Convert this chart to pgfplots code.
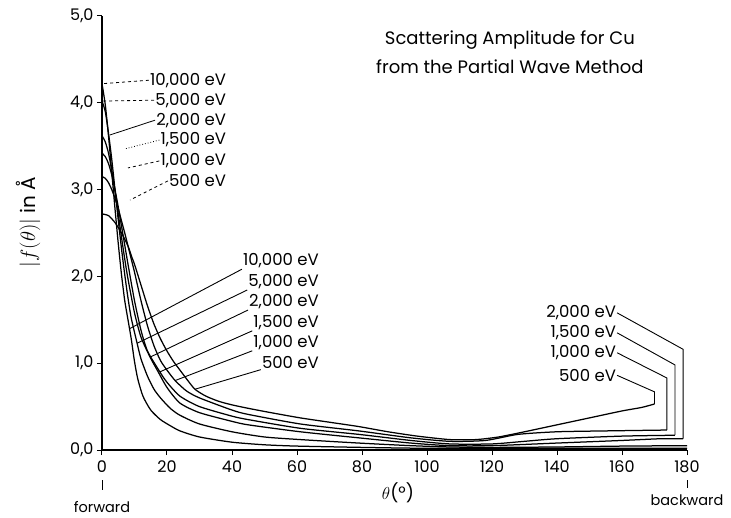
\documentclass[border=0pt]{standalone}
\usepackage{fontspec}
\setmainfont{Poppins}
\usepackage{pgfplots}
\pgfplotsset{compat=1.18}
\begin{document}
\begin{tikzpicture}[x=1pt,y=1pt]
\useasboundingbox (-102pt,-67pt) rectangle (629pt,450pt);
\begin{axis}[
  at={(0,0)}, anchor=south west,
  width=585pt, height=434pt, scale only axis,
  xmin=0, xmax=180, ymin=0, ymax=5, enlargelimits=false,
  axis lines=left, axis line style={-, line width=1.2pt},
  xtick={0,20,...,180}, ytick={0,1,...,5},
  xticklabels={0,20,40,60,80,100,120,140,160,180},
  yticklabels={{0,0},{1,0},{2,0},{3,0},{4,0},{5,0}},
  tick align=outside, major tick length=5pt,
  tick style={line width=1pt, black},
  ticklabel style={font=\fontsize{16}{18}\selectfont},
  xticklabel style={yshift=-2pt},
  clip=false,
  crv/.style={black, solid, line width=1.25pt, smooth, tension=0.4, mark=none},
  xlabel={$\theta$(°)},
  xlabel style={at={(axis description cs:0.506,-0.099)}, anchor=center, font=\fontsize{18}{20}\selectfont},
  ylabel={$|f(\theta)|$ in Å},
  ylabel style={at={(axis description cs:-0.1265,0.525)}, anchor=center, font=\fontsize{20}{22}\selectfont},
]
% 10,000 eV
\addplot[crv] coordinates {(0,4.22)(1,3.98)(2,3.62)(3,3.2)(4,2.78)(5,2.38)(6,2.02)(7,1.72)(8,1.5)(9,1.28)(10,1.02)(11,0.82)(12.6,0.62)(15,0.46)(18,0.35)(21,0.28)(24,0.22)(30,0.15)(40,0.09)(50,0.06)(60,0.045)(80,0.03)(100,0.02)(140,0.02)(180,0.02)};
% 5,000 eV
\addplot[crv] coordinates {(0,4.02)(1,3.9)(2,3.65)(3,3.35)(4,3.0)(5,2.65)(6,2.32)(7,2.02)(8,1.75)(9,1.52)(10.8,1.23)(12,1.05)(14,0.85)(16,0.7)(18,0.6)(21,0.48)(24,0.4)(30,0.3)(40,0.21)(50,0.15)(61,0.12)(79,0.08)(95,0.05)(107,0.035)(120,0.03)(140,0.035)(160,0.045)(180,0.05)};
% 2,000 eV
\addplot[crv] coordinates {(0,3.62)(1,3.55)(2,3.42)(3,3.22)(4,2.98)(5,2.72)(6,2.45)(7,2.2)(8,1.97)(10,1.58)(12,1.3)(14.8,1.07)(17,0.92)(20,0.72)(24,0.54)(30,0.43)(40,0.33)(45,0.29)(61,0.21)(79,0.14)(95,0.08)(107,0.05)(120,0.05)(140,0.08)(160,0.11)(172,0.13)(178.8,0.13)};
% 1,500 eV
\addplot[crv] coordinates {(0,3.42)(1,3.38)(2,3.3)(3,3.17)(4,3.0)(5,2.8)(6,2.58)(7,2.36)(8,2.14)(10,1.72)(12,1.38)(14,1.14)(17.8,0.9)(20,0.78)(24,0.62)(30,0.5)(40,0.39)(45,0.35)(61,0.25)(79,0.18)(95,0.11)(107,0.07)(120,0.07)(130,0.1)(140,0.13)(160,0.16)(176.3,0.17)};
% 1,000 eV
\addplot[crv] coordinates {(0,3.15)(1,3.13)(2,3.08)(3,3.0)(4,2.9)(5,2.78)(6,2.64)(7,2.5)(8,2.35)(9,2.2)(10,2.05)(12,1.72)(14,1.43)(16,1.2)(18,1.03)(20,0.92)(22.5,0.8)(26,0.68)(30,0.6)(40,0.46)(45,0.41)(61,0.3)(79,0.22)(95,0.14)(107,0.1)(118,0.11)(128,0.18)(140,0.21)(155,0.22)(173.8,0.23)};
% 500 eV
\addplot[crv] coordinates {(0,2.72)(2,2.7)(4,2.62)(6,2.5)(8,2.35)(9.2,2.22)(10,2.14)(12,1.9)(14,1.66)(16,1.45)(18,1.28)(20,1.14)(22,1.02)(24,0.92)(26,0.82)(28.6,0.7)(32,0.62)(36,0.56)(40,0.52)(45,0.48)(52,0.43)(61,0.37)(70,0.32)(79,0.27)(88,0.21)(97,0.16)(107,0.12)(115,0.12)(122,0.15)(130,0.21)(140,0.29)(150,0.37)(160,0.45)(166,0.49)(170,0.53)};

% title
\node[font=\fontsize{18}{21}\selectfont] at (axis cs:125.5,4.72) {Scattering Amplitude for Cu};
\node[font=\fontsize{18}{21}\selectfont] at (axis cs:125.5,4.42) {from the Partial Wave Method};

% left labels
\begin{scope}[every node/.style={font=\fontsize{16.5}{18}\selectfont, inner sep=1pt, anchor=east}]
\node (a1) at (axis cs:38.5,4.26) {10,000 eV};
\node (a2) at (axis cs:38.5,4.03) {5,000 eV};
\node (a3) at (axis cs:38.5,3.80) {2,000 eV};
\node (a4) at (axis cs:38.5,3.57) {1,500 eV};
\node (a5) at (axis cs:38.5,3.33) {1,000 eV};
\node (a6) at (axis cs:38.5,3.10) {500 eV};
\end{scope}
\draw[line width=0.8pt, dashed] (a1.west) -- (axis cs:0,4.22);
\draw[line width=0.8pt, dashed] (a2.west) -- (axis cs:0,4.02);
\draw[line width=0.8pt] (a3.west) -- (axis cs:2.5,3.63);
\draw[line width=0.8pt, dotted] (a4.west) -- (axis cs:7.1,3.47);
\draw[line width=0.8pt, dashed] (a5.west) -- (axis cs:8,3.25);
\draw[line width=0.8pt, dashed] (a6.west) -- (axis cs:8.6,2.88);

% middle labels
\begin{scope}[every node/.style={font=\fontsize{16.5}{18}\selectfont, inner sep=1pt, anchor=east}]
\node (b1) at (axis cs:67.1,2.18) {10,000 eV};
\node (b2) at (axis cs:67.1,1.94) {5,000 eV};
\node (b3) at (axis cs:67.1,1.71) {2,000 eV};
\node (b4) at (axis cs:67.1,1.47) {1,500 eV};
\node (b5) at (axis cs:67.1,1.24) {1,000 eV};
\node (b6) at (axis cs:67.1,1.01) {500 eV};
\end{scope}
\draw[line width=0.9pt] (b1.south west) -- (axis cs:8.6,1.40);
\draw[line width=0.9pt] (b2.south west) -- (axis cs:10.8,1.23);
\draw[line width=0.9pt] (b3.south west) -- (axis cs:14.8,1.07);
\draw[line width=0.9pt] (b4.south west) -- (axis cs:17.8,0.90);
\draw[line width=0.9pt] (b5.south west) -- (axis cs:22.5,0.80);
\draw[line width=0.9pt] (b6.south west) -- (axis cs:28.6,0.70);

% right labels
\begin{scope}[every node/.style={font=\fontsize{16.5}{18}\selectfont, inner sep=1pt, anchor=east}]
\node (c1) at (axis cs:158.5,1.58) {2,000 eV};
\node (c2) at (axis cs:158.5,1.35) {1,500 eV};
\node (c3) at (axis cs:158.5,1.12) {1,000 eV};
\node (c4) at (axis cs:158.5,0.86) {500 eV};
\end{scope}
\draw[line width=0.9pt] (c1.east) -- (axis cs:178.8,1.16) -- (axis cs:178.8,0.13);
\draw[line width=0.9pt] (c2.east) -- (axis cs:176.3,0.98) -- (axis cs:176.3,0.17);
\draw[line width=0.9pt] (c3.east) -- (axis cs:173.8,0.83) -- (axis cs:173.8,0.23);
\draw[line width=0.9pt] (c4.east) -- (axis cs:170,0.67) -- (axis cs:170,0.53);

% forward / backward
\draw[line width=0.9pt] (axis cs:0,-0.35) -- (axis cs:0,-0.46);
\draw[line width=0.9pt] (axis cs:180,-0.35) -- (axis cs:180,-0.44);
\node[font=\fontsize{14.5}{16}\selectfont] at (axis cs:0,-0.66) {forward};
\node[font=\fontsize{14.5}{16}\selectfont] at (axis cs:180,-0.58) {backward};
\end{axis}
\end{tikzpicture}
\end{document}
